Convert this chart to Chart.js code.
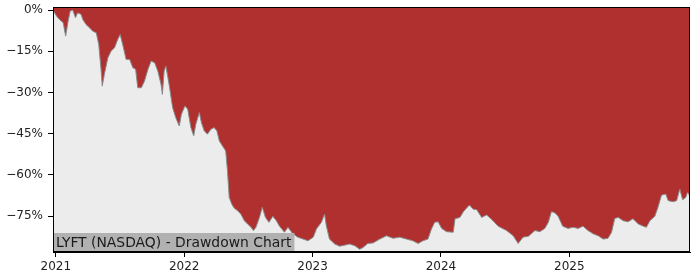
<!DOCTYPE html>
<html>
<head>
<meta charset="utf-8">
<script src="https://cdn.jsdelivr.net/npm/chart.js@4.4.1/dist/chart.umd.min.js"></script>
<style>
  html, body { margin: 0; padding: 0; background: #fff; }
  #wrap { width: 700px; height: 280px; }
</style>
</head>
<body>
<div id="wrap"><canvas id="ddChart" width="700" height="280"></canvas></div>
<script>
// даты и просадка (в %)
const dates = [
  '2020-12-24','2021-01-03','2021-01-12','2021-01-22','2021-01-29','2021-02-05','2021-02-11','2021-02-18',
  '2021-02-26','2021-03-04','2021-03-14','2021-03-19','2021-03-28','2021-04-07','2021-04-16','2021-04-26',
  '2021-05-03','2021-05-10','2021-05-13','2021-05-19','2021-05-29','2021-06-07','2021-06-17','2021-06-26',
  '2021-07-03','2021-07-10','2021-07-20','2021-07-30','2021-08-08','2021-08-16','2021-08-22','2021-09-01',
  '2021-09-10','2021-09-20','2021-09-29','2021-10-09','2021-10-18','2021-10-27','2021-10-31','2021-11-05',
  '2021-11-10','2021-11-19','2021-11-29','2021-12-08','2021-12-18','2021-12-24','2022-01-03','2022-01-11',
  '2022-01-20','2022-01-28','2022-02-03','2022-02-13','2022-02-19','2022-02-27','2022-03-08','2022-03-18',
  '2022-03-27','2022-04-04','2022-04-11','2022-04-20','2022-04-29','2022-05-04','2022-05-09','2022-05-16',
  '2022-05-23','2022-06-02','2022-06-11','2022-06-21','2022-06-30','2022-07-10','2022-07-17','2022-07-24',
  '2022-08-03','2022-08-11','2022-08-20','2022-08-30','2022-09-10','2022-09-20','2022-09-29','2022-10-13',
  '2022-10-23','2022-11-06','2022-11-20','2022-12-05','2022-12-19','2023-01-03','2023-01-12','2023-01-26',
  '2023-02-04','2023-02-09','2023-02-18','2023-03-05','2023-03-19','2023-04-02','2023-04-16','2023-05-01',
  '2023-05-15','2023-05-24','2023-06-07','2023-06-22','2023-07-11','2023-07-30','2023-08-18','2023-09-06',
  '2023-09-25','2023-10-13','2023-10-28','2023-11-11','2023-11-25','2023-12-05','2023-12-14','2023-12-24',
  '2024-01-03','2024-01-17','2024-02-05','2024-02-10','2024-02-24','2024-03-05','2024-03-22','2024-04-02',
  '2024-04-12','2024-04-26','2024-05-10','2024-05-25','2024-06-12','2024-07-06','2024-07-25','2024-08-08',
  '2024-08-22','2024-09-06','2024-09-25','2024-10-09','2024-10-23','2024-11-02','2024-11-11','2024-11-21',
  '2024-11-30','2024-12-13','2024-12-28','2025-01-12','2025-01-26','2025-02-09','2025-02-23','2025-03-10',
  '2025-03-24','2025-04-07','2025-04-21','2025-05-01','2025-05-10','2025-05-20','2025-06-03','2025-06-17',
  '2025-07-01','2025-07-16','2025-07-30','2025-08-08','2025-08-18','2025-09-01','2025-09-10','2025-09-20',
  '2025-10-02','2025-10-09','2025-10-23','2025-11-02','2025-11-11','2025-11-19','2025-11-28','2025-12-03',
  '2025-12-10'
];
const drawdown = [
  0, -2.2, -3.5, -4.6, -9.5, -4.0, -0.4, 0,
  -2.8, -1.0, -1.6, -3.5, -5.3, -6.5, -7.7, -8.3,
  -12.5, -22.2, -27.7, -23.4, -17.4, -15.0, -13.7, -10.7,
  -8.9, -12.5, -18.0, -18.0, -21.0, -21.6, -28.3, -28.3,
  -25.9, -21.6, -18.6, -19.2, -22.2, -27.0, -30.7, -22.2,
  -20.4, -27.0, -35.5, -39.2, -42.2, -38.0, -34.9, -36.1,
  -42.8, -45.8, -41.6, -37.3, -41.0, -44.0, -45.2, -43.4,
  -42.8, -44.0, -47.7, -49.5, -51.3, -58.5, -68.2, -70.6,
  -72.1, -73.1, -74.3, -76.7, -77.9, -79.1, -80.3, -79.1,
  -75.5, -71.8, -75.5, -77.3, -75.1, -76.7, -78.7, -80.9,
  -79.1, -81.5, -82.7, -83.4, -84.0, -82.7, -79.7, -77.3,
  -74.3, -78.5, -83.4, -85.2, -86.0, -85.6, -85.2, -85.8,
  -87.1, -86.5, -85.0, -84.8, -83.4, -82.2, -83.1, -82.7,
  -83.4, -84.0, -85.0, -84.0, -83.4, -79.7, -77.3, -77.1,
  -79.5, -80.7, -80.9, -76.0, -75.5, -73.4, -71.0, -72.5,
  -72.7, -75.5, -74.6, -76.3, -78.7, -80.3, -82.2, -85.0,
  -82.7, -82.4, -80.3, -80.7, -79.5, -77.3, -73.4, -73.9,
  -75.1, -78.7, -79.5, -79.1, -79.5, -78.7, -80.3, -81.5,
  -82.2, -83.4, -83.1, -80.9, -75.9, -75.5, -76.7, -77.1,
  -76.0, -77.9, -78.7, -79.1, -76.7, -75.1, -71.8, -67.4,
  -67.0, -69.4, -69.8, -69.4, -65.2, -69.1, -68.2, -66.4,
  -67.8
];
const yTicks = [0, -15, -30, -45, -60, -75];
const xTicks = [2021, 2022, 2023, 2024, 2025];
const title = 'LYFT (NASDAQ) - Drawdown Chart';

function toYear(s) {
  const d = new Date(s + 'T00:00:00Z');
  const y = d.getUTCFullYear();
  const a = Date.UTC(y, 0, 1), b = Date.UTC(y + 1, 0, 1);
  return y + (d.getTime() - a) / (b - a);
}

const points = dates.map((d, i) => ({ x: toYear(d), y: drawdown[i] }));

// фон области графика, рамка и подпись внизу
const decor = {
  id: 'decor',
  beforeDraw(chart) {
    const { ctx, chartArea: a } = chart;
    ctx.save();
    ctx.fillStyle = '#ececec';
    ctx.fillRect(a.left, a.top, a.right - a.left, a.bottom - a.top);
    ctx.restore();
  },
  afterDraw(chart) {
    const { ctx, chartArea: a } = chart;
    ctx.save();
    ctx.font = '13.9px "DejaVu Sans"';
    const w = ctx.measureText(title).width;
    ctx.fillStyle = '#b1b1b1';
    ctx.fillRect(a.left, a.bottom - 19, w + 6, 19);
    ctx.fillStyle = '#1a1a1a';
    ctx.textBaseline = 'middle';
    ctx.fillText(title, a.left + 3, a.bottom - 9);
    ctx.strokeStyle = '#000';
    ctx.lineWidth = 1;
    ctx.strokeRect(a.left + 0.5, a.top + 0.5, a.right - a.left - 1, a.bottom - a.top - 1);
    ctx.restore();
  }
};

const tickFont = { family: 'DejaVu Sans', size: 12 };

new Chart(document.getElementById('ddChart'), {
  type: 'line',
  data: {
    datasets: [{
      data: points,
      borderColor: '#8a8a8a',
      borderWidth: 1,
      backgroundColor: '#b03030',
      fill: 'end',
      pointRadius: 0,
      tension: 0
    }]
  },
  options: {
    responsive: false,
    animation: false,
    devicePixelRatio: 1,
    layout: { padding: { top: 7, right: 10, left: 0, bottom: 0 } },
    plugins: { legend: { display: false }, tooltip: { enabled: false } },
    scales: {
      x: {
        type: 'linear',
        min: toYear(dates[0]),
        max: toYear(dates[dates.length - 1]),
        afterBuildTicks: s => { s.ticks = xTicks.map(v => ({ value: v })); },
        afterFit: s => { s.height = 28; s.paddingLeft = 0; s.paddingRight = 0; },
        ticks: { color: '#222', font: tickFont, padding: 3, maxRotation: 0, callback: v => String(v) },
        grid: { drawOnChartArea: false, tickLength: 5, color: '#000' },
        border: { color: '#000', width: 1 }
      },
      y: {
        min: -88.1,
        max: 1.1,
        afterBuildTicks: s => { s.ticks = yTicks.map(v => ({ value: v })); },
        afterFit: s => { s.width = 53; s.paddingTop = 0; s.paddingBottom = 0; },
        ticks: {
          color: '#222', font: tickFont, padding: 5,
          callback: v => (v === 0 ? '0%' : '\u2212' + Math.abs(v) + '%')
        },
        grid: { drawOnChartArea: false, tickLength: 5, color: '#000' },
        border: { color: '#000', width: 1 }
      }
    }
  },
  plugins: [decor]
});
</script>
</body>
</html>
